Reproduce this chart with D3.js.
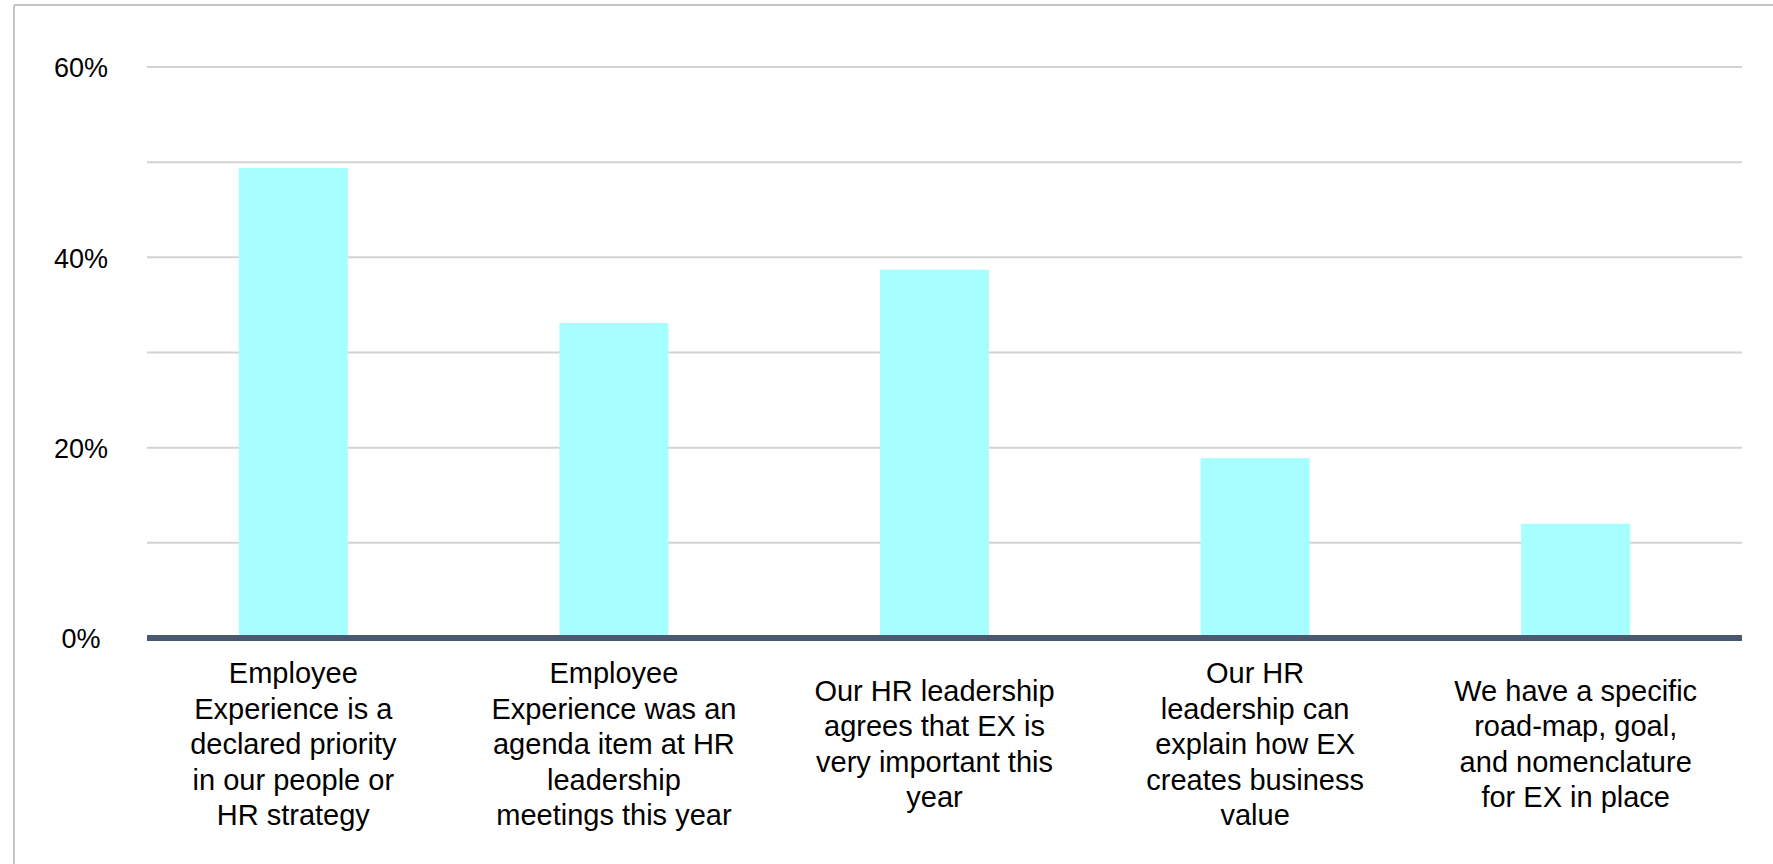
<!DOCTYPE html>
<html>
<head>
<meta charset="utf-8">
<script src="https://cdn.jsdelivr.net/npm/d3@7"></script>
<style>
  html, body { margin: 0; padding: 0; background: #fff; }
  svg { display: block; font-family: "Liberation Sans", Arial, Helvetica, sans-serif; }
</style>
</head>
<body>
<svg width="1773" height="864"></svg>
<script>

// category labels, one entry per line as in the original
const categories = [
  ["Employee", "Experience is a", "declared priority", "in our people or", "HR strategy"],
  ["Employee", "Experience was an", "agenda item at HR", "leadership", "meetings this year"],
  ["Our HR leadership", "agrees that EX is", "very important this", "year"],
  ["Our HR", "leadership can", "explain how EX", "creates business", "value"],
  ["We have a specific", "road-map, goal,", "and nomenclature", "for EX in place"]
];

// share of respondents (%)
const values = [49.4, 33.1, 38.7, 18.9, 12.0];

const gridTicks = [0, 10, 20, 30, 40, 50, 60];
const labelTicks = [0, 20, 40, 60];


const svg = d3.select("svg"),
  width = +svg.attr("width"),
  height = +svg.attr("height");

const plotLeft = 147, plotRight = 1742;

const x = d3.scaleBand()
  .domain(d3.range(categories.length))
  .range([133, 1736]);

const y = d3.scaleLinear()
  .domain([0, 60])
  .range([638, 67]);

const barWidth = x.bandwidth() * 0.34;

// outer frame (only top and left edges are visible)
svg.append("line")
  .attr("x1", 14).attr("x2", width)
  .attr("y1", 5).attr("y2", 5)
  .attr("stroke", "#c4c4c4").attr("stroke-width", 2);
svg.append("line")
  .attr("x1", 14).attr("x2", 14)
  .attr("y1", 5).attr("y2", height)
  .attr("stroke", "#c4c4c4").attr("stroke-width", 2);

// gridlines
svg.append("g")
  .selectAll("line")
  .data(gridTicks)
  .enter().append("line")
  .attr("x1", plotLeft).attr("x2", plotRight)
  .attr("y1", d => y(d)).attr("y2", d => y(d))
  .attr("stroke", "#d3d3d3")
  .attr("stroke-width", 2);

// y labels
const yAxis = svg.append("g")
  .attr("transform", "translate(" + plotLeft + ",0)")
  .call(d3.axisLeft(y)
    .tickValues(labelTicks)
    .tickSize(0)
    .tickPadding(66)
    .tickFormat(d => d + "%"));

yAxis.select(".domain").remove();
yAxis.selectAll("text")
  .attr("text-anchor", "middle")
  .attr("dy", "0.36em")
  .style("font-size", "27px")
  .style("fill", "#000");

// bars
svg.append("g")
  .selectAll("rect")
  .data(values)
  .enter().append("rect")
  .attr("x", (d, i) => x(i) + x.bandwidth() / 2 - barWidth / 2)
  .attr("width", barWidth)
  .attr("y", d => y(d))
  .attr("height", d => y(0) - y(d))
  .attr("fill", "#a6fefe");

// baseline
svg.append("line")
  .attr("x1", plotLeft).attr("x2", plotRight)
  .attr("y1", y(0)).attr("y2", y(0))
  .attr("stroke", "#4a5870")
  .attr("stroke-width", 6);

// category labels, block centred vertically
const lineHeight = 35.5;
const labelMid = 754;

const labels = svg.append("g")
  .selectAll("text")
  .data(categories)
  .enter().append("text")
  .attr("text-anchor", "middle")
  .style("font-size", "29px")
  .style("fill", "#000")
  .attr("transform", (d, i) => "translate(" + (x(i) + x.bandwidth() / 2) + ",0)");

labels.selectAll("tspan")
  .data(d => d.map((t, j) => ({ t: t, j: j, n: d.length })))
  .enter().append("tspan")
  .attr("x", 0)
  .attr("y", d => labelMid + (d.j - (d.n - 1) / 2) * lineHeight)
  .text(d => d.t);

</script>
</body>
</html>
